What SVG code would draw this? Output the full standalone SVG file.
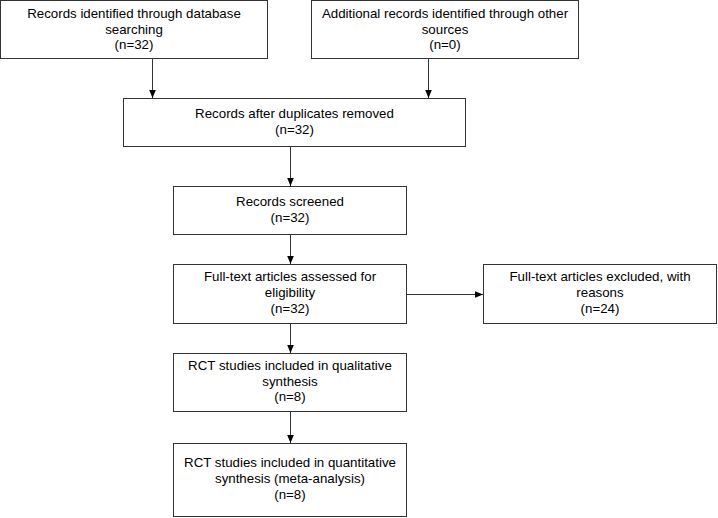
<svg xmlns="http://www.w3.org/2000/svg" width="718" height="518" viewBox="0 0 718 518">
<defs>
<style>
.box{fill:#fff;stroke:#333;stroke-width:1}
.t{font-family:"Liberation Sans",Arial,sans-serif;font-size:13.3px;fill:#000;text-anchor:middle}
.c{stroke:#333;stroke-width:1;fill:none;marker-end:url(#ah)}
</style>
<marker id="ah" markerWidth="8" markerHeight="8" refX="8" refY="4" orient="auto" markerUnits="userSpaceOnUse">
<path d="M0,0.7 L8,4 L0,7.3 Z" fill="#000"/>
</marker>
</defs>
<rect width="718" height="518" fill="#fff"/>
<g id="connectors">
<path class="c" d="M152.5,59 V98"/>
<path class="c" d="M428.5,59 V98"/>
<path class="c" d="M290.5,147 V186"/>
<path class="c" d="M290.5,235 V264"/>
<path class="c" d="M407,294.5 H483"/>
<path class="c" d="M290.5,324 V353"/>
<path class="c" d="M290.5,412 V443"/>
</g>
<g id="n1">
<rect class="box" x="0.5" y="0.5" width="267" height="58"/>
<text class="t" x="134" y="18">Records identified through database</text>
<text class="t" x="134" y="34">searching</text>
<text class="t" x="134" y="49">(n=32)</text>
</g>
<g id="n2">
<rect class="box" x="311.5" y="0.5" width="267" height="58"/>
<text class="t" x="445" y="18">Additional records identified through other</text>
<text class="t" x="445" y="34">sources</text>
<text class="t" x="445" y="49">(n=0)</text>
</g>
<g id="n3">
<rect class="box" x="123.5" y="98.5" width="342" height="48"/>
<text class="t" x="294.5" y="118">Records after duplicates removed</text>
<text class="t" x="294.5" y="134">(n=32)</text>
</g>
<g id="n4">
<rect class="box" x="173.5" y="186.5" width="233" height="48"/>
<text class="t" x="290" y="206">Records screened</text>
<text class="t" x="290" y="222">(n=32)</text>
</g>
<g id="n5">
<rect class="box" x="173.5" y="264.5" width="233" height="59"/>
<text class="t" x="290" y="281">Full-text articles assessed for</text>
<text class="t" x="290" y="297">eligibility</text>
<text class="t" x="290" y="313">(n=32)</text>
</g>
<g id="n6">
<rect class="box" x="483.5" y="264.5" width="233" height="59"/>
<text class="t" x="600" y="281">Full-text articles excluded, with</text>
<text class="t" x="600" y="297">reasons</text>
<text class="t" x="600" y="313">(n=24)</text>
</g>
<g id="n7">
<rect class="box" x="173.5" y="353.5" width="233" height="58"/>
<text class="t" x="290" y="370">RCT studies included in qualitative</text>
<text class="t" x="290" y="386">synthesis</text>
<text class="t" x="290" y="401">(n=8)</text>
</g>
<g id="n8">
<rect class="box" x="173.5" y="443.5" width="233" height="73"/>
<text class="t" x="290" y="467">RCT studies included in quantitative</text>
<text class="t" x="290" y="483">synthesis (meta-analysis)</text>
<text class="t" x="290" y="499">(n=8)</text>
</g>
</svg>
